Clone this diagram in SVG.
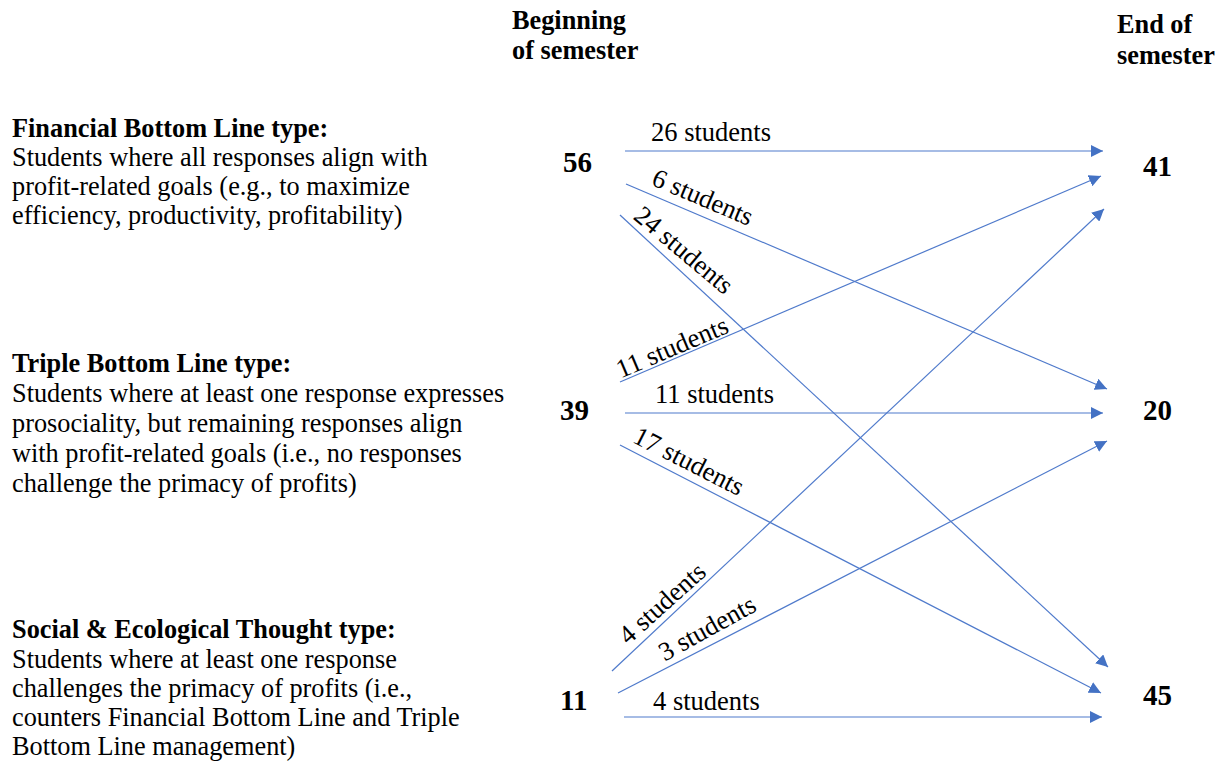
<svg xmlns="http://www.w3.org/2000/svg" width="1223" height="772" viewBox="0 0 1223 772">
<style>
text { font-family: "Liberation Serif", "Times New Roman", serif; fill: #000; }
.t { font-size: 26.3px; }
.b { font-weight: bold; font-size: 26.3px; }
.h { font-size: 26.3px; font-weight: bold; }
.n { font-size: 29px; font-weight: bold; }
.l { font-size: 26.5px; }
.r { font-size: 26.5px; text-anchor: middle; dominant-baseline: central; }
.c { stroke: #4F7ACB; stroke-width: 1.2; fill: none; marker-end: url(#ah); }
</style>
<defs>
<marker id="ah" viewBox="0 0 12 12" refX="12" refY="6" markerWidth="12" markerHeight="12" markerUnits="userSpaceOnUse" orient="auto">
<path d="M0,0 L12,6 L0,12 z" fill="#4472C4"/>
</marker>
</defs>
<rect width="1223" height="772" fill="#fff"/>
<g id="headers">
<text class="h" x="512" y="29">Beginning</text>
<text class="h" x="512" y="59">of semester</text>
<text class="h" x="1117" y="33">End of</text>
<text class="h" x="1117" y="64">semester</text>
</g>
<g id="fbl">
<text class="t b" x="12" y="137">Financial Bottom Line type:</text>
<text class="t" x="12" y="166">Students where all responses align with</text>
<text class="t" x="12" y="195">profit-related goals (e.g., to maximize</text>
<text class="t" x="12" y="224">efficiency, productivity, profitability)</text>
</g>
<g id="tbl">
<text class="t b" x="12" y="372">Triple Bottom Line type:</text>
<text class="t" x="12" y="402">Students where at least one response expresses</text>
<text class="t" x="12" y="432">prosociality, but remaining responses align</text>
<text class="t" x="12" y="462">with profit-related goals (i.e., no responses</text>
<text class="t" x="12" y="492">challenge the primacy of profits)</text>
</g>
<g id="set">
<text class="t b" x="12" y="638">Social &amp; Ecological Thought type:</text>
<text class="t" x="12" y="668">Students where at least one response</text>
<text class="t" x="12" y="697">challenges the primacy of profits (i.e.,</text>
<text class="t" x="12" y="726">counters Financial Bottom Line and Triple</text>
<text class="t" x="12" y="755">Bottom Line management)</text>
</g>
<g id="start-counts">
<text class="n" x="563" y="172">56</text>
<text class="n" x="560" y="420">39</text>
<text class="n" x="560" y="710">11</text>
</g>
<g id="end-counts">
<text class="n" x="1143" y="176">41</text>
<text class="n" x="1143" y="420">20</text>
<text class="n" x="1143" y="705">45</text>
</g>
<g id="connectors">
<line class="c" x1="625" y1="151" x2="1103" y2="151"/>
<line class="c" x1="626" y1="184" x2="1107" y2="389"/>
<line class="c" x1="620" y1="215" x2="1108" y2="667"/>
<line class="c" x1="620" y1="382" x2="1101" y2="176"/>
<line class="c" x1="625" y1="413" x2="1103" y2="413"/>
<line class="c" x1="620" y1="445" x2="1101" y2="693"/>
<line class="c" x1="612" y1="671" x2="1104" y2="209"/>
<line class="c" x1="618" y1="693" x2="1107" y2="441"/>
<line class="c" x1="624" y1="717" x2="1102" y2="717"/>
</g>
<g id="labels">
<text class="l" x="651" y="141">26 students</text>
<text class="r" transform="translate(703,197) rotate(23)">6 students</text>
<text class="r" transform="translate(684,250) rotate(40)">24 students</text>
<text class="r" transform="translate(672,347) rotate(-23)">11 students</text>
<text class="l" x="655" y="403">11 students</text>
<text class="r" transform="translate(689,461) rotate(27)">17 students</text>
<text class="r" transform="translate(662,603) rotate(-42)">4 students</text>
<text class="r" transform="translate(707,628) rotate(-29)">3 students</text>
<text class="l" x="653" y="710">4 students</text>
</g>
</svg>
